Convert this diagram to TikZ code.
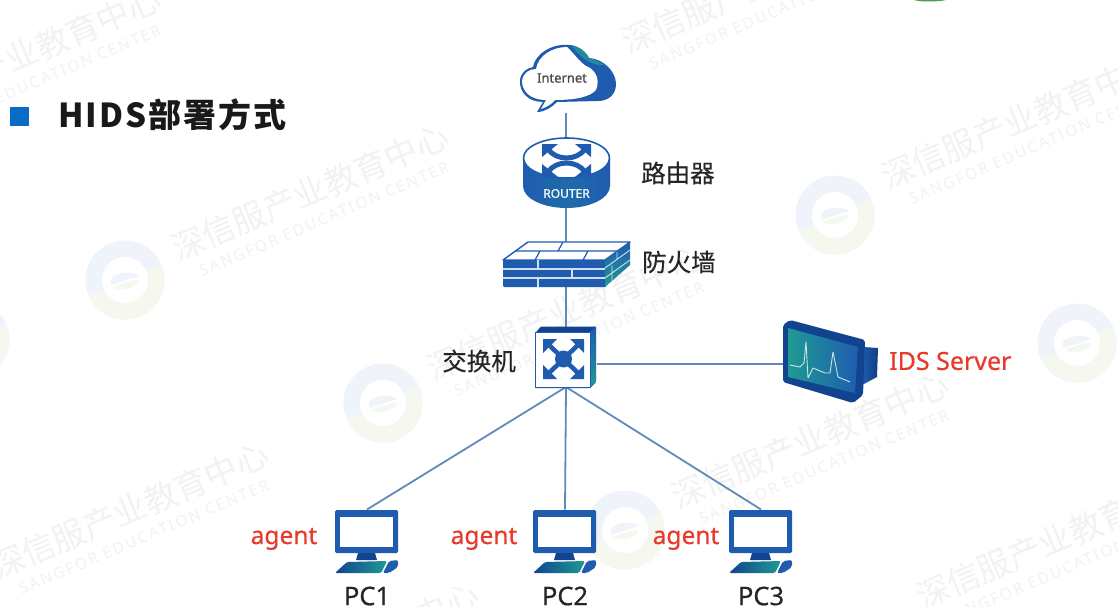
\documentclass[tikz,border=0pt]{standalone}
\usepackage{fontspec}
\setmainfont{Noto Sans}
\newfontfamily\medf[FakeBold=0.5]{Noto Sans}
\newfontfamily\boldf[FakeBold=1.1]{Noto Sans}
\newfontfamily\cjk[FakeBold=0.35]{Noto Sans CJK SC}
\newfontfamily\cjkw{Noto Sans CJK SC}
\newfontfamily\cjkt[LetterSpace=6]{Noto Sans CJK SC}
\newfontfamily\wmf[LetterSpace=14]{Noto Sans}
\usetikzlibrary{arrows.meta}
\definecolor{devblue}{HTML}{1F5CB0}
\definecolor{navy}{HTML}{12438F}
\definecolor{teal2}{HTML}{1E9A93}
\definecolor{wire}{HTML}{5F8ABB}
\definecolor{redlab}{HTML}{E8392A}
\definecolor{wmgray}{HTML}{F2F2F3}
\definecolor{wmblue}{HTML}{EFF4FB}
\definecolor{wmgreen}{HTML}{F5F8EF}
\definecolor{bullet}{HTML}{0B6BC8}
\tikzset{
  x=1pt,y=-1pt,
  wirec/.style={draw=wire,line width=1.8pt},
  anchorbox/.style={inner sep=0pt,outer sep=0pt},
  lab/.style={font=\cjk\fontsize{24.5}{24}\selectfont,text=black!85,inner sep=0pt},
  redtxt/.style={font=\medf\fontsize{24.5}{24}\selectfont,text=redlab,inner sep=0pt},
  pclab/.style={font=\medf\fontsize{25.5}{25}\selectfont,text=black!85,inner sep=0pt},
  wmcn/.style={font=\cjkw\fontsize{33}{33}\selectfont,text=wmgray,rotate=23,inner sep=0pt},
  wmen/.style={font=\wmf\fontsize{15.5}{15}\selectfont,text=wmgray,rotate=23,inner sep=0pt},
  xline/.style={draw=devblue,line width=4.6pt},
}
\newcommand{\wmark}[3]{%
  \node[wmcn] (wc#1) at (#2,#3) {深信服产业教育中心};
  \node[wmen] (we#1) at ([xshift=14pt,yshift=-27pt]wc#1) {SANGFOR EDUCATION CENTER};}
\newcommand{\wlogo}[2]{%
  \begin{scope}[shift={(#1,#2)}]
    \fill[wmblue] (0,0) circle (39.5);
    \fill[wmgreen] (-36,16) arc[start angle=156,end angle=-24,radius=39.4] -- (0,0) -- cycle;
    \fill[white] (0,0) circle (23);
    \fill[wmblue] (-14,-1) .. controls (-8,-9) and (8,-9) .. (14,-4) .. controls (7,-2) and (-7,3) .. (-14,5) -- cycle;
    \fill[wmgreen] (-12,7) .. controls (-5,4) and (6,0) .. (14,0) .. controls (10,9) and (-6,12) .. (-12,7) -- cycle;
  \end{scope}}
% corner arrowhead: apex (#1,#2), leg direction signs (#3,#4), leg lengths (#5,#6)
\newcommand{\ctip}[6]{\fill[devblue] (#1,#2) -- ++(#3*#5,0) -- (#1,#2+#4*#6) -- cycle;}
\newcommand{\pcicon}[1]{%
  \begin{scope}[shift={(#1,510)}]
    \fill[devblue,rounded corners=1.5pt] (-32,0) rectangle (31,43);
    \fill[white] (-27,7) rectangle (26,37);
    \fill[navy] (-9,43) -- (8,43) -- (10,50) -- (-11,50) -- cycle;
    \shade[left color=navy,right color=teal2,rounded corners=1.5pt] (-32,63) -- (-20,52) -- (20,51) -- (14,63) -- cycle;
    \fill[devblue,rounded corners=2pt] (16,63) -- (22,51) -- (31,50) -- (31,57) -- (22,63) -- cycle;
  \end{scope}}
\begin{document}
\begin{tikzpicture}
\useasboundingbox (0,0) rectangle (1118,607);
\fill[white] (0,0) rectangle (1118,607);
% watermark
\wlogo{125}{280}\wlogo{383}{403}\wlogo{835}{215}\wlogo{1077}{343}\wlogo{625}{530}\wlogo{-30}{340}
\wmark{1}{310}{192}\wmark{2}{1020}{120}\wmark{3}{22}{55}\wmark{4}{760}{-15}
\wmark{5}{130}{510}\wmark{6}{810}{440}\wmark{7}{565}{312}\wmark{8}{1055}{540}\wmark{9}{340}{650}
% top green sliver
\fill[green!45!black!70] (914,0) .. controls (920,2) and (938,2) .. (946,0) -- cycle;
% bullet and title
\fill[bullet] (10,107) rectangle (29,126);
\node[anchor=west,inner sep=0pt,font=\cjkt\bfseries\fontsize{33}{33}\selectfont,text=black!90] (title) at (58,115) {HIDS部署方式};
% anchors for connectors
\node[anchorbox,minimum width=96pt,minimum height=68pt] (cloud) at (566,79) {};
\node[anchorbox,minimum width=87pt,minimum height=71pt] (router) at (566,172.5) {};
\node[anchorbox,minimum width=128pt,minimum height=45pt] (fw) at (566,264.5) {};
\node[anchorbox,minimum width=61pt,minimum height=60pt] (sw) at (566,357) {};
\node[anchorbox,minimum width=95pt,minimum height=84pt] (ids) at (830.5,364) {};
\node[anchorbox,minimum width=63pt,minimum height=63pt] (pc1) at (367,541) {};
\node[anchorbox,minimum width=63pt,minimum height=63pt] (pc2) at (565,541) {};
\node[anchorbox,minimum width=63pt,minimum height=63pt] (pc3) at (761,541) {};
% connectors
\draw[wirec] (cloud.south) -- (router.north);
\draw[wirec] (router.south) -- (fw.north);
\draw[wirec] (fw.south) -- (sw.north);
\draw[wirec] (sw.east |- ids.west) -- (ids.west);
\draw[wirec] (sw.south) -- (pc1.north);
\draw[wirec] (sw.south) -- (pc2.north);
\draw[wirec] (sw.south) -- (pc3.north);
% cloud
\fill[devblue] (537,112) -- (543,102) .. controls (528,102) and (519,92) .. (520,80) .. controls (521,72) and (527,68) .. (533,67) .. controls (535,54) and (552,43) .. (570,45) .. controls (579,46) and (586,52) .. (589,58) .. controls (604,59) and (616,72) .. (616,84) .. controls (616,95) and (608,101) .. (598,101) -- (557,102) .. controls (552,107) and (545,112) .. (537,112) -- cycle;
\fill[teal2!80!devblue] (570,45) .. controls (579,46) and (586,52) .. (589,58) .. controls (596,60) and (600,62) .. (604,65) .. controls (594,66) and (582,60) .. (572,46) -- cycle;
\fill[white] (541,109) -- (546,100) .. controls (530,100) and (522,91) .. (522,81) .. controls (523,73) and (529,69) .. (536,69) .. controls (538,56) and (552,47) .. (567,47) .. controls (575,54) and (580,64) .. (590,68) .. controls (596,72) and (600,80) .. (596,90) .. controls (590,97) and (575,100) .. (555,100) .. controls (552,104) and (547,107) .. (541,109) -- cycle;
\node[inner sep=0pt,font=\boldf\fontsize{13}{14}\selectfont,text=black!70] (inet) at (562,78) {Internet};
% router
\shade[left color=devblue,right color=devblue,middle color=teal2!25!devblue] (523,158) -- (523,186) arc[start angle=180,end angle=0,x radius=43.5,y radius=22] -- (610,158) -- cycle;
\fill[white,draw=devblue,line width=1.6pt] (566.5,158) ellipse [x radius=43,y radius=20];
\draw[devblue,line width=5pt] (548,149) .. controls (556,161) and (577,161) .. (585,149);
\draw[devblue,line width=5pt] (548,172) .. controls (556,160) and (577,160) .. (585,172);
\ctip{542}{144}{1}{1}{16}{13}\ctip{591}{144}{-1}{1}{16}{13}\ctip{542}{177}{1}{-1}{16}{13}\ctip{591}{177}{-1}{-1}{16}{13}
\node[inner sep=0pt,font=\boldf\fontsize{12}{12}\selectfont,text=white!92!teal2] (rt) at (566.5,193.5) {ROUTER};
\node[lab,anchor=west] (rl) at (641,173) {路由器};
% firewall
\fill[white,draw=devblue,line width=1.4pt,line join=round] (528,242) -- (630,242) -- (605,260) -- (503,260) -- cycle;
\draw[devblue,line width=1.2pt] (515,251) -- (618,251) (563,242) -- (558,251) (588,251) -- (583,260) (540,251) -- (535,260);
\fill[devblue,rounded corners=1pt] (503,260) rectangle (606,287);
\draw[white!80!devblue,line width=1.1pt] (503,269) -- (606,269) (503,278) -- (606,278) (538,260) -- (538,269) (572,269) -- (572,278) (538,278) -- (538,287);
\shade[bottom color=teal2,top color=devblue] (605,260) -- (630,242) -- (630,265) -- (605,287) -- cycle;
\draw[white!80!devblue,line width=.9pt] (605,268) -- (630,250) (605,278) -- (630,260) (617,252) -- (617,260) (612,265) -- (612,281);
\node[lab,anchor=west] (fl) at (642,262) {防火墙};
% switch
\fill[navy,rounded corners=1pt] (536,332) -- (541,326.5) -- (596,326.5) -- (596,382) -- (590,388) -- (535,388) -- cycle;
\shade[top color=devblue,bottom color=teal2] (590,332) -- (596,326.5) -- (596,382) -- (590,388) -- cycle;
\fill[white,draw=devblue,line width=.8pt] (535,332) rectangle (590,387);
\draw[xline] (547,343) -- (580,375) (580,343) -- (547,375);
\ctip{543}{339}{1}{1}{14}{14}\ctip{584}{339}{-1}{1}{14}{14}\ctip{543}{379}{1}{-1}{14}{14}\ctip{584}{379}{-1}{-1}{14}{14}
\fill[devblue] (563.5,359) circle (8.5);
\node[lab,anchor=east] (sl) at (516,361) {交换机};
% IDS
\shade[left color=devblue,right color=navy!90!black] (864,347) -- (878,348) -- (877,377) -- (862,385) -- cycle;
\fill[navy,rounded corners=2pt] (783,325) -- (790,320) -- (865,340) -- (863,395) -- (853,403) -- (783,382) -- cycle;
\shade[left color=teal2,right color=devblue] (788,328) -- (858,347) -- (855,393) -- (788,377) -- cycle;
\draw[white!75!teal2,line width=.9pt,line join=round] (790,365) -- (800,367) -- (804,363) -- (806,342) -- (808,378) -- (813,368) -- (825,373) -- (830,373) -- (833,352) -- (838,377) -- (850,382);
\node[redtxt,anchor=west,font=\medf\fontsize{25}{25}\selectfont] (il) at (889,361) {IDS Server};
% PCs
\pcicon{367}\pcicon{565}\pcicon{761}
\node[redtxt,anchor=base] (a1) at (284,544) {agent};
\node[redtxt,anchor=base] (a2) at (484,544) {agent};
\node[redtxt,anchor=base] (a3) at (686,544) {agent};
\node[pclab] (p1) at (367,596) {PC1};
\node[pclab] (p2) at (565,596) {PC2};
\node[pclab] (p3) at (761,596) {PC3};
\end{tikzpicture}
\end{document}
